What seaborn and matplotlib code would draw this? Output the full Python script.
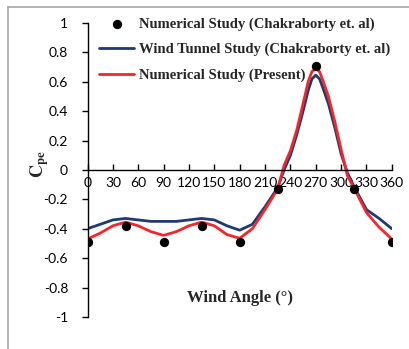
import numpy as np
import pandas as pd
import matplotlib
matplotlib.use('Agg')
import matplotlib.pyplot as plt
from matplotlib.lines import Line2D
from matplotlib.ticker import FuncFormatter
import seaborn as sns

# Numerical study (Chakraborty et. al) - markers
num_angle = [0, 45, 90, 135, 180, 225, 270, 315, 360]
num_cpe = [-0.49, -0.38, -0.49, -0.38, -0.49, -0.13, 0.71, -0.13, -0.49]

# curves
curve_angle = [0, 15, 30, 45, 60, 75, 90, 105, 120, 135, 150, 165, 180, 195, 210,
               225, 232.5, 240, 247.5, 255, 261, 265.5, 270, 274.5, 279, 285, 292.5,
               300, 307.5, 315, 330, 345, 360]
wind_tunnel = [-0.40, -0.37, -0.34, -0.33, -0.34, -0.35, -0.35, -0.35, -0.34, -0.33,
               -0.34, -0.38, -0.41, -0.37, -0.25, -0.12, 0.00, 0.10, 0.24, 0.40,
               0.54, 0.62, 0.645, 0.62, 0.55, 0.45, 0.29, 0.11, -0.02, -0.11, -0.27,
               -0.33, -0.40]
present = [-0.47, -0.43, -0.38, -0.355, -0.38, -0.42, -0.445, -0.42, -0.38, -0.355,
           -0.38, -0.44, -0.465, -0.40, -0.27, -0.13, 0.03, 0.13, 0.27, 0.45,
           0.60, 0.67, 0.69, 0.67, 0.60, 0.50, 0.33, 0.14, -0.04, -0.12, -0.29,
           -0.39, -0.47]

x_ticks = list(range(0, 361, 30))
y_ticks = [round(v, 1) for v in np.arange(-1, 1.01, 0.2)]

sns.set_style('white')
plt.rcParams['font.family'] = ['Lato', 'DejaVu Sans']
plt.rcParams['mathtext.fontset'] = 'stix'

df_lines = pd.DataFrame({'angle': curve_angle, 'wt': wind_tunnel, 'pr': present})
df_pts = pd.DataFrame({'angle': num_angle, 'cpe': num_cpe})

fig = plt.figure(figsize=(4.09, 3.49), dpi=100)
ax = fig.add_axes([0.214, 0.092, 0.744, 0.842])

sns.scatterplot(data=df_pts, x='angle', y='cpe', ax=ax, color='black', s=45,
                edgecolor='black', linewidth=0, zorder=3,
                label='Numerical Study (Chakraborty et. al)')
sns.lineplot(data=df_lines, x='angle', y='wt', ax=ax, color='#1f3a70', lw=2.0,
             label='Wind Tunnel Study (Chakraborty et. al)', zorder=2)
sns.lineplot(data=df_lines, x='angle', y='pr', ax=ax, color='#f5262a', lw=2.0,
             label='Numerical Study (Present)', zorder=2.5)

ax.set_xlim(0, 360)
ax.set_ylim(-1, 1)
ax.set_xticks(x_ticks)
ax.set_yticks(y_ticks)
ax.yaxis.set_major_formatter(FuncFormatter(lambda v, p: '0' if abs(v) < 1e-9 else ('%g' % round(v, 1))))

for s in ['top', 'right']:
    ax.spines[s].set_visible(False)
ax.spines['bottom'].set_position(('data', 0))
ax.spines['left'].set_color('black')
ax.spines['bottom'].set_color('black')
ax.spines['left'].set_linewidth(1.0)
ax.spines['bottom'].set_linewidth(1.0)

ax.tick_params(axis='x', direction='in', length=4, width=1, pad=5, labelsize=10, colors='black')
ax.tick_params(axis='y', direction='out', length=4, width=1, pad=10, labelsize=10, colors='black')
ax.tick_params(axis='x', bottom=True)
ax.tick_params(axis='y', left=True)

ax.set_xlabel('Wind Angle (°)', family=['Liberation Serif'], fontweight='bold', fontsize=12)
ax.xaxis.set_label_coords(0.5, 0.093)
ax.set_ylabel(r'$\mathbf{C_{pe}}$', fontsize=13, rotation=90)
ax.yaxis.set_label_coords(-0.12, 0.52)

leg = ax.legend(loc='upper left', bbox_to_anchor=(0.01, 1.05), frameon=False,
                prop={'family': 'Liberation Serif', 'weight': 'bold', 'size': 10.5},
                handlelength=2.4, handletextpad=0.3, labelspacing=0.85, borderaxespad=0.2)

# outer border
fig.add_artist(Line2D([0.02, 1.0], [0.98, 0.98], color='#a6a6a6', lw=1.2, transform=fig.transFigure))
fig.add_artist(Line2D([0.02, 0.02], [0.0, 0.98], color='#a6a6a6', lw=1.2, transform=fig.transFigure))

fig.savefig('out.png', dpi=100)
